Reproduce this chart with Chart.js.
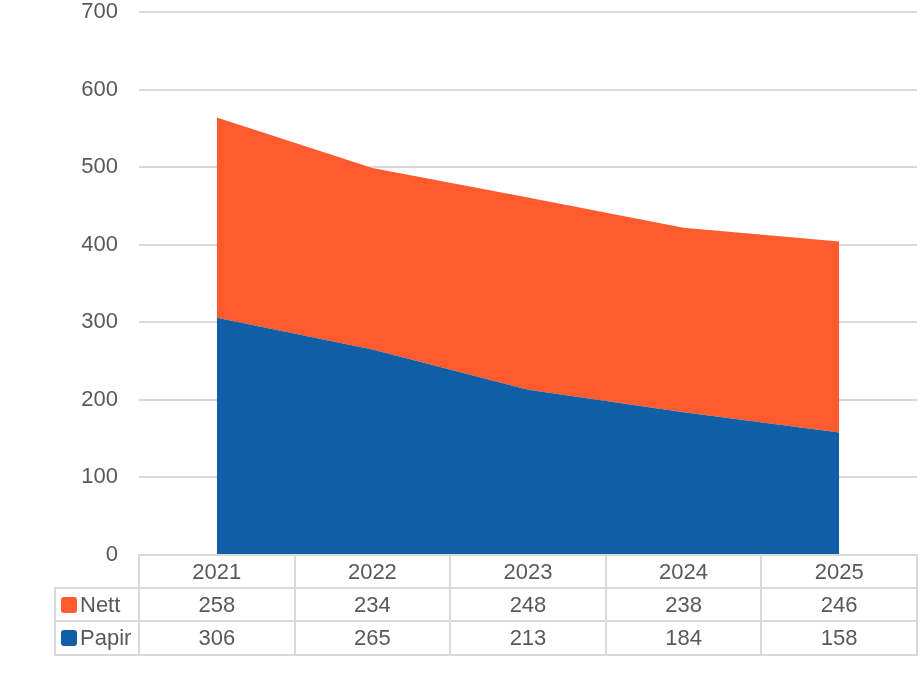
<!DOCTYPE html>
<html>
<head>
<meta charset="utf-8">
<script src="https://cdn.jsdelivr.net/npm/chart.js@4/dist/chart.umd.min.js"></script>
<style>
  html, body { margin: 0; padding: 0; background: #fff; }
  #wrap { position: relative; width: 922px; height: 674px; overflow: hidden; }
  #c { position: absolute; left: 0; top: 0; }
  .cell { position: absolute; box-sizing: border-box; border: 2px solid #d9d9d9;
          display: flex; align-items: center; justify-content: center;
          font-family: 'Liberation Sans', Arial, sans-serif; font-size: 22px; color: #595959; }
  .lab { justify-content: flex-start; padding-left: 5px; }
  .sw { display: inline-block; width: 16px; height: 16px; border-radius: 3px; margin-right: 3px; }
</style>
</head>
<body>
<div id="wrap">
  <canvas id="c" width="922" height="674"></canvas>
  <div id="tbl"></div>
</div>
<script>
const years = ['2021', '2022', '2023', '2024', '2025'];
const papir = [306, 265, 213, 184, 158];
const nett  = [258, 234, 248, 238, 246];
const seriesNames = ['Nett', 'Papir'];
const colorNett = '#FF5B2E';
const colorPapir = '#0F5EA6';

const FONT = "'Liberation Sans', Arial, sans-serif";

const tablePlugin = {
  id: 'dataTable',
  afterLayout(chart) {
    const tbl = document.getElementById('tbl');
    tbl.innerHTML = '';
    const ca = chart.chartArea;
    const xs = chart.scales.x;
    const n = years.length;
    const half = (ca.right - ca.left) / (2 * n);
    const rowTops = [ca.bottom, ca.bottom + 33, ca.bottom + 66, ca.bottom + 100];
    const labLeft = 55;
    function cell(x0, y0, x1, y1, html, cls) {
      const d = document.createElement('div');
      d.className = 'cell' + (cls ? ' ' + cls : '');
      d.style.left = (x0 - 1) + 'px';
      d.style.top = (y0 - 1) + 'px';
      d.style.width = (x1 - x0 + 2) + 'px';
      d.style.height = (y1 - y0 + 2) + 'px';
      d.innerHTML = html;
      tbl.appendChild(d);
    }
    const rows = [
      { name: seriesNames[0], color: colorNett, vals: nett },
      { name: seriesNames[1], color: colorPapir, vals: papir }
    ];
    for (let i = 0; i < n; i++) {
      const cx = xs.getPixelForValue(i);
      cell(cx - half, rowTops[0], cx + half, rowTops[1], years[i]);
      rows.forEach((r, k) => {
        cell(cx - half, rowTops[k + 1], cx + half, rowTops[k + 2], String(r.vals[i]));
      });
    }
    rows.forEach((r, k) => {
      cell(labLeft, rowTops[k + 1], ca.left, rowTops[k + 2],
        '<span class="sw" style="background:' + r.color + '"></span>' + r.name, 'lab');
    });
  }
};

new Chart(document.getElementById('c'), {
  type: 'line',
  data: {
    labels: years,
    datasets: [
      { label: 'Papir', data: papir, backgroundColor: colorPapir, borderWidth: 0,
        pointRadius: 0, fill: 'origin', tension: 0 },
      { label: 'Nett', data: nett, backgroundColor: colorNett, borderWidth: 0,
        pointRadius: 0, fill: '-1', tension: 0 }
    ]
  },
  options: {
    responsive: false,
    animation: false,
    layout: { padding: { top: 12, right: 5, bottom: 119, left: 0 } },
    plugins: { legend: { display: false }, tooltip: { enabled: false } },
    scales: {
      x: {
        display: false,
        offset: true,
        grid: { display: false }
      },
      y: {
        stacked: true,
        min: 0, max: 700,
        ticks: { stepSize: 100, padding: 21, color: '#595959', font: { family: FONT, size: 22 } },
        grid: { color: '#d9d9d9', lineWidth: 2, drawTicks: false },
        border: { display: false },
        afterFit(scale) { scale.width = 139; scale.paddingTop = 12; scale.paddingBottom = 0; }
      }
    }
  },
  plugins: [tablePlugin]
});
</script>
</body>
</html>
